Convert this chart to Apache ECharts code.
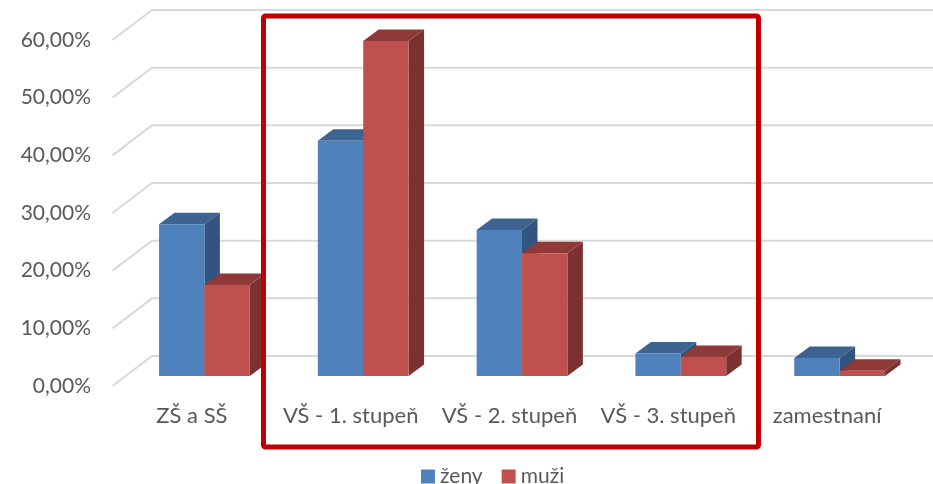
<!DOCTYPE html>
<html><head><meta charset="utf-8">
<style>html,body{margin:0;padding:0;background:#fff}#c{width:933px;height:484px}</style>
<script src="https://cdn.jsdelivr.net/npm/echarts@6/dist/echarts.min.js"></script>
</head><body><div id="c"></div>
<script>
const categories = ['ZŠ a SŠ','VŠ - 1. stupeň','VŠ - 2. stupeň','VŠ - 3. stupeň','zamestnaní'];
const zeny = [26.3, 40.8, 25.3, 3.9, 3.1];
const muzi = [15.8, 58.1, 21.3, 3.3, 0.9];
const ticks = [0,10,20,30,40,50,60];
const FONT = 'Lato';
const DX = 15.5, DY = 11.5;
function fmt(v){return v.toFixed(2).replace('.',',')+'%';}
function barRenderer(side, front, top, sideCol){
  return function(params, api){
    const c = api.coord([api.value(0), api.value(1)]);
    const b = api.coord([api.value(0), 0]);
    const w = api.size([1,0])[0]/3.5;
    const x0 = side===0 ? c[0]-w : c[0];
    const x1 = x0+w;
    const poly = (pts,col)=>({type:'polygon',shape:{points:pts},style:{fill:col}});
    return {type:'group',children:[
      poly([[x1,c[1]],[x1+DX,c[1]-DY],[x1+DX,b[1]-DY],[x1,b[1]]],sideCol),
      poly([[x0,c[1]],[x0+DX,c[1]-DY],[x1+DX,c[1]-DY],[x1,c[1]]],top),
      poly([[x0,c[1]],[x1,c[1]],[x1,b[1]],[x0,b[1]]],front)
    ]};
  };
}
const chart = echarts.init(document.getElementById('c'),null,{renderer:'canvas'});
chart.setOption({
  animation:false,
  textStyle:{fontFamily:FONT},
  grid:{left:125,width:794,top:30,height:346,containLabel:false},
  xAxis:{type:'category',data:categories,axisLine:{show:false},axisTick:{show:false},
    axisLabel:{interval:0,color:'#595959',fontSize:22,fontFamily:FONT,margin:29,padding:[0,25,0,0]}},
  yAxis:{type:'value',min:0,max:60,interval:10,splitLine:{show:false},axisLine:{show:false},axisTick:{show:false},
    axisLabel:{formatter:fmt,color:'#595959',fontSize:21,fontFamily:FONT,margin:34,verticalAlign:'top',lineHeight:20}},
  legend:{data:[{name:'ženy',icon:'rect'},{name:'muži',icon:'rect'}],left:421,top:466,padding:0,itemWidth:14,itemHeight:14,itemGap:19,
    textStyle:{color:'#595959',fontSize:21,fontFamily:FONT,lineHeight:12},selectedMode:false},
  series:[
    {type:'custom',name:'wall',silent:true,z:1,clip:false,data:ticks.map(t=>[0,t]),encode:{x:0,y:1},
     renderItem:function(params,api){
       const y = api.coord([0,api.value(1)])[1];
       const x = params.coordSys.x;
       return {type:'polyline',shape:{points:[[x-12.5,y+10],[x+27,y-20],[api.getWidth(),y-20]]},
         style:{stroke:'#D9D9D9',lineWidth:2,fill:null}};
     }},
    {type:'custom',name:'ženy',z:2,clip:false,itemStyle:{color:'#4F81BD'},data:zeny.map((v,i)=>[i,v]),encode:{x:0,y:1},
     renderItem:barRenderer(0,'#4F81BD','#3D6390','#315480')},
    {type:'custom',name:'muži',z:3,clip:false,itemStyle:{color:'#C0504D'},data:muzi.map((v,i)=>[i,v]),encode:{x:0,y:1},
     renderItem:barRenderer(1,'#C0504D','#8E3A38','#7B312F')}
  ],
  graphic:[{type:'rect',z:100,shape:{x:263.5,y:16,width:495,height:431,r:2},style:{fill:null,stroke:'#C00000',lineWidth:5}}]
});
</script></body></html>
